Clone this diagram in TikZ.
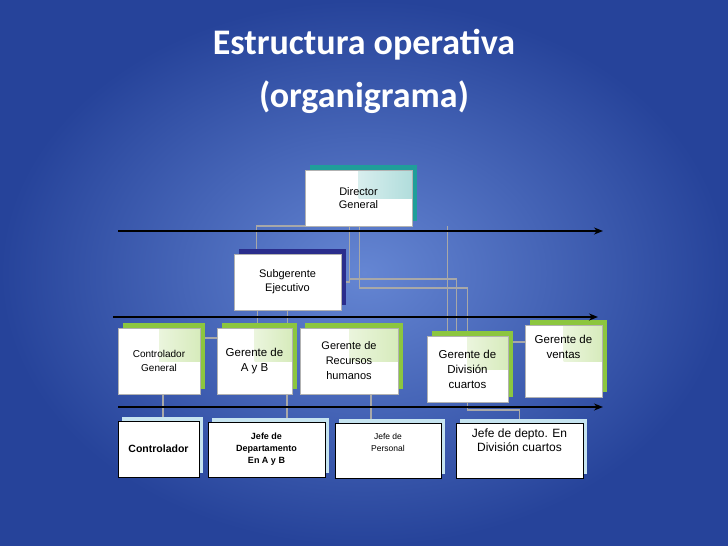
\documentclass[tikz,border=0pt]{standalone}
\usepackage{fontspec}
\setmainfont{Liberation Sans}
\newfontfamily\titlefont{Carlito}
\usepackage{xcolor}
\usetikzlibrary{arrows.meta, positioning, shadows}
\definecolor{bgin}{HTML}{6586D3}
\definecolor{bgout}{HTML}{26439A}
\definecolor{lime}{HTML}{8CC63F}
\definecolor{teal}{HTML}{1F9E9A}
\definecolor{navy}{HTML}{2A2D8C}
\definecolor{ice}{HTML}{C6E4F0}
\definecolor{wire}{HTML}{A8A8A8}
\pgfdeclarelayer{bg}
\pgfdeclarelayer{wires}
\pgfsetlayers{bg,wires,main}
\tikzset{
  post/.style={rectangle, draw=gray!60, fill=white, align=center, inner sep=1pt,
    path picture={\shade[left color=white, right color=#1!35]
      (path picture bounding box.center) rectangle (path picture bounding box.north east);}},
  post/.default=lime,
  greenpost/.style={post=lime, copy shadow={shadow xshift=5pt, shadow yshift=5pt, fill=lime, draw=none}},
  bluepost/.style={rectangle, draw=black, fill=white, align=center, inner sep=1pt,
    copy shadow={shadow xshift=4pt, shadow yshift=4pt, fill=ice, draw=none}},
  wireline/.style={draw=wire, line width=1.8pt},
  level/.style={line width=2pt, -{Stealth[length=9pt, width=7pt]}}
}
\begin{document}
\begin{tikzpicture}[x=1pt, y=-1pt]
  \begin{pgfonlayer}{bg}
    \shade[inner color=bgin, outer color=bgout] (0,0) rectangle (728,546);
  \end{pgfonlayer}
  \useasboundingbox (0,0) rectangle (728,546);

  \node[text=white, font=\titlefont\bfseries\fontsize{36}{40}\selectfont] (title1) at (364,45) {Estructura operativa};
  \node[text=white, font=\titlefont\bfseries\fontsize{36}{40}\selectfont] (title2) at (364,97) {(organigrama)};

  % top levels
  \node[post=teal, copy shadow={shadow xshift=5pt, shadow yshift=5pt, fill=teal, draw=none},
        minimum width=107pt, minimum height=56pt, font=\fontsize{11}{13}\selectfont] (dir) at (358.5,198) {Director\\General};
  \node[rectangle, draw=gray!60, fill=white, align=center, copy shadow={shadow xshift=5pt, shadow yshift=5pt, fill=navy, draw=none},
        minimum width=107pt, minimum height=56pt, font=\fontsize{11}{14}\selectfont] (sub) at (287.5,282) {Subgerente\\Ejecutivo};

  % gerentes
  \node[greenpost, minimum width=82pt, minimum height=66pt, font=\fontsize{10}{14}\selectfont] (cg) at (159,361) {Controlador\\General};
  \node[greenpost, minimum width=75pt, minimum height=66pt, font=\fontsize{11.5}{15}\selectfont] (gab) at (254.5,361) {Gerente de\\A y B};
  \node[greenpost, minimum width=98pt, minimum height=66pt, font=\fontsize{11}{15}\selectfont] (grh) at (349,361) {Gerente de\\Recursos\\humanos};
  \node[greenpost, minimum width=81pt, minimum height=66pt, font=\fontsize{11.5}{15}\selectfont] (dcu) at (467.5,369) {Gerente de\\División\\cuartos};
  \node[greenpost, minimum width=77pt, minimum height=72pt, font=\fontsize{11.5}{15}\selectfont] (ven) at (563.5,361) {Gerente de\\ventas\\[14pt]};

  % jefes
  \node[bluepost, minimum width=81pt, minimum height=56pt, font=\bfseries\fontsize{10.5}{13}\selectfont] (ctl) at (158.5,449) {Controlador};
  \node[bluepost, minimum width=117pt, minimum height=55pt, font=\bfseries\fontsize{9}{12}\selectfont] (jab) at (266.5,449.5) {Jefe de\\Departamento\\En A y B};
  \node[bluepost, minimum width=106pt, minimum height=55pt, font=\fontsize{8.5}{12}\selectfont] (jp) at (388,450.5) {Jefe de\\Personal\\[4pt]};
  \node[bluepost, minimum width=127pt, minimum height=55pt, font=\fontsize{12}{14}\selectfont] (jd) at (519.5,450.5) {Jefe de depto. En\\División cuartos\\[6pt]};

  % level arrows
  \coordinate (l1a) at (118,231); \coordinate (l1b) at (603,231);
  \coordinate (l2a) at (113,317); \coordinate (l2b) at (598,317);
  \coordinate (l3a) at (118,407); \coordinate (l3b) at (603,407);
  \draw[level] (l1a) -- (l1b);
  \draw[level] (l2a) -- (l2b);
  \draw[level] (l3a) -- (l3b);

  % gray links
  \begin{pgfonlayer}{wires}
    \draw[wireline] (dir.south west) -| ([xshift=-31pt]sub.north);
    \draw[wireline] (sub.east) -| ([xshift=-9pt]dir.south);
    \draw[wireline] ([xshift=-9pt, yshift=-53pt]dir.south) -| ([xshift=-11pt]dcu.north);
    \draw[wireline] ([xshift=1pt]dir.south) |- ([yshift=48pt]dcu.north) -- (dcu.north);
    \draw[wireline] ([xshift=-20pt]dcu.north) -- ([xshift=-20pt]dcu.north |- dir.south);
    \draw[wireline] ([xshift=-30pt]sub.south) -- ([xshift=-30pt]sub.south |- gab.north);
    \draw[wireline] (sub.south) -- (sub.south |- gab.north);
    \draw[wireline] ([yshift=-10pt]cg.north east) -- ([yshift=-10pt]gab.north west);
    \draw[wireline] ([yshift=-6pt]dcu.north east) -- ([yshift=-6pt]dcu.north east -| ven.west);
    \draw[wireline] ([xshift=4pt]cg.south) -- ([xshift=4pt]cg.south |- ctl.north);
    \draw[wireline] ([xshift=-5pt]gab.south east) -- ([xshift=-5pt]gab.south east |- jab.north);
    \draw[wireline] ([xshift=22pt]grh.south) -- ([xshift=22pt]grh.south |- jp.north);
    \draw[wireline] (dcu.south) |- ([yshift=13pt]jd.north) -- (jd.north);
  \end{pgfonlayer}
\end{tikzpicture}
\end{document}
